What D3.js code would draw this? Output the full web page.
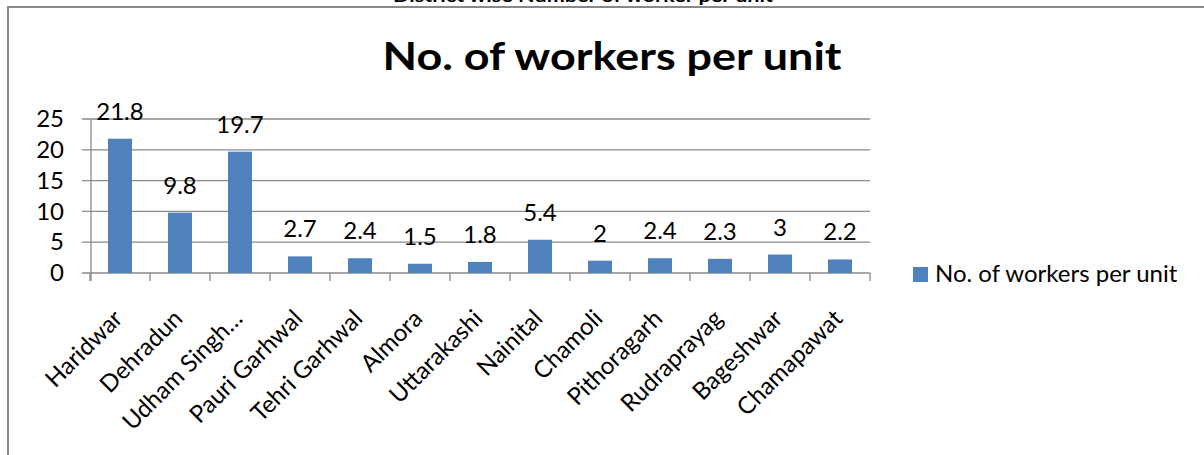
<!DOCTYPE html>
<html>
<head>
<meta charset="utf-8">
<script src="https://cdn.jsdelivr.net/npm/d3@7"></script>
<style>
  html, body { margin: 0; padding: 0; background: #fff; overflow: hidden; }
  svg { display: block; }
</style>
</head>
<body>
<svg id="chart"></svg>
<script>
const categories = ['Haridwar', 'Dehradun', 'Udham Singh…', 'Pauri Garhwal', 'Tehri Garhwal', 'Almora', 'Uttarakashi', 'Nainital', 'Chamoli', 'Pithoragarh', 'Rudraprayag', 'Bageshwar', 'Chamapawat'];
const workers = [21.8, 9.8, 19.7, 2.7, 2.4, 1.5, 1.8, 5.4, 2, 2.4, 2.3, 3, 2.2];
const yTicks = [0, 5, 10, 15, 20, 25];
const seriesName = 'No. of workers per unit';
const chartTitle = 'No. of workers per unit';
const pageTitle = 'District wise Number of worker per unit';

const width = 1204;
const height = 455;
const font = 'Lato, "Open Sans", sans-serif';
const textSize = 24;
const barColor = '#4f81bd';
const lineColor = '#8a8a8a';

const svg = d3.select('#chart')
  .attr('width', width)
  .attr('height', height)
  .style('font-family', font);

const x = d3.scaleBand()
  .domain(categories)
  .range([90, 870])
  .paddingInner(0.6)
  .paddingOuter(0.3);
const y = d3.scaleLinear()
  .domain([0, 25])
  .range([273, 119]);

// frame + heading cut off at the top of the page
svg.append('text')
  .attr('x', 583)
  .attr('y', 2)
  .attr('text-anchor', 'middle')
  .attr('font-weight', 'bold')
  .attr('font-size', 17)
  .attr('textLength', 380)
  .attr('lengthAdjust', 'spacingAndGlyphs')
  .text(pageTitle);

svg.append('rect')
  .attr('x', 8)
  .attr('y', 7)
  .attr('width', width + 20)
  .attr('height', height + 20)
  .attr('fill', 'none')
  .attr('stroke', '#888')
  .attr('stroke-width', 2);

// title
svg.append('text')
  .attr('x', 612)
  .attr('y', 70)
  .attr('text-anchor', 'middle')
  .attr('font-weight', 'bold')
  .attr('font-size', 39)
  .attr('textLength', 459)
  .attr('lengthAdjust', 'spacingAndGlyphs')
  .text(chartTitle);

drawAxis();
drawBars();
createLegend();

// axes and grid
function drawAxis() {
  const x0 = x.range()[0];
  const x1 = x.range()[1];
  const gap = (x.step() - x.bandwidth()) / 2;

  svg.append('g')
    .selectAll('line')
    .data(yTicks)
    .enter()
    .append('line')
    .attr('x1', x0 - 8)
    .attr('x2', x1)
    .attr('y1', d => y(d))
    .attr('y2', d => y(d))
    .attr('stroke', lineColor)
    .attr('stroke-width', 1.3);

  const yAxis = d3.axisLeft(y)
    .tickValues(yTicks)
    .tickSize(0)
    .tickPadding(27);
  const ya = svg.append('g')
    .attr('transform', `translate(${x0 + 1} 0)`)
    .call(yAxis);
  ya.select('.domain').remove();
  ya.selectAll('text')
    .attr('font-size', textSize)
    .attr('font-family', font)
    .attr('fill', '#000');

  svg.append('line')
    .attr('x1', x0 + 1)
    .attr('x2', x0 + 1)
    .attr('y1', y(25))
    .attr('y2', y(0) + 8)
    .attr('stroke', lineColor)
    .attr('stroke-width', 1.3);

  // tick marks between categories
  const edges = categories.map(c => x(c) - gap).concat([x1]);
  svg.append('g')
    .selectAll('line')
    .data(edges)
    .enter()
    .append('line')
    .attr('x1', d => d)
    .attr('x2', d => d)
    .attr('y1', y(0))
    .attr('y2', y(0) + 8)
    .attr('stroke', lineColor)
    .attr('stroke-width', 1.3);

  const xAxis = d3.axisBottom(x).tickSize(0);
  const xa = svg.append('g')
    .attr('transform', `translate(0 ${y(0)})`)
    .call(xAxis);
  xa.select('.domain').remove();
  xa.selectAll('text')
    .attr('font-size', textSize)
    .attr('font-family', font)
    .attr('fill', '#000')
    .attr('text-anchor', 'end')
    .attr('x', 0)
    .attr('y', 0)
    .attr('dy', 0)
    .attr('transform', 'translate(4 47) rotate(-45)');
}

// bars and value labels
function drawBars() {
  const g = svg.append('g');
  g.selectAll('rect')
    .data(workers)
    .enter()
    .append('rect')
    .attr('x', (d, i) => x(categories[i]))
    .attr('y', d => y(d))
    .attr('width', x.bandwidth())
    .attr('height', d => y(0) - y(d))
    .attr('fill', barColor);

  g.selectAll('text')
    .data(workers)
    .enter()
    .append('text')
    .attr('x', (d, i) => x(categories[i]) + x.bandwidth() / 2)
    .attr('y', d => y(d) - 19)
    .attr('text-anchor', 'middle')
    .attr('font-size', textSize)
    .text(d => d);
}

// legend
function createLegend() {
  const legend = svg.append('g');
  legend.append('rect')
    .attr('x', 913)
    .attr('y', 267)
    .attr('width', 15)
    .attr('height', 15)
    .attr('fill', barColor);
  legend.append('text')
    .attr('x', 935)
    .attr('y', 282)
    .attr('font-size', textSize)
    .text(seriesName);
}
</script>
</body>
</html>
